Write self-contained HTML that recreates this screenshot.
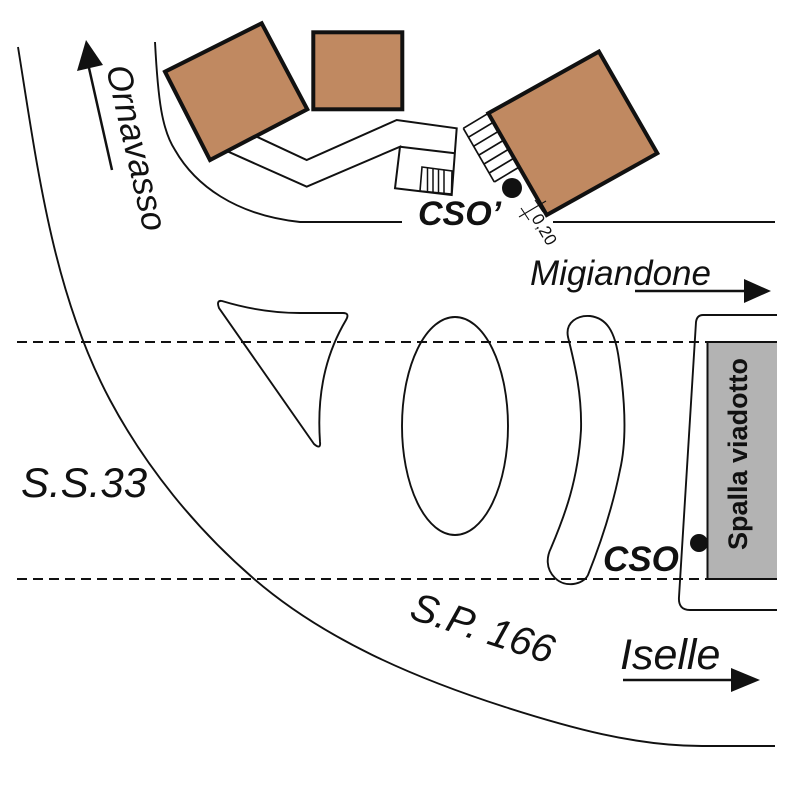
<!DOCTYPE html>
<html><head><meta charset="utf-8"><style>
html,body{margin:0;padding:0;background:#fff;}
svg{display:block;}
text{font-family:"Liberation Sans",Arial,sans-serif;fill:#111;}
</style></head><body>
<svg width="788" height="788" viewBox="0 0 788 788" xmlns="http://www.w3.org/2000/svg">
<rect width="788" height="788" fill="#fff"/>
<g fill="none" stroke="#111" stroke-width="1.9">
  <!-- big outer arc -->
  <path d="M18,47 C37.4,167.4 52.7,292.6 110,400 C145.7,466.9 195.6,528.2 253,578 C324,639.6 415.5,678.3 505,707 C568.8,727.4 635,746 702,746 L775,746"/>
  <!-- inner top curve -->
  <path d="M155,42 C158,100 162,130 175,150 C195,185 235,215 300,222 L402,222"/>
  <line x1="553" y1="222" x2="775" y2="222"/>
  <!-- walkway -->
  <polyline stroke-width="2" points="256.7,136.7 306.7,160 396.7,120 456.7,128.3 451.7,195 395,188.3 400,146.7 306.7,186.7 228.3,151.7"/>
  <line stroke-width="2" x1="400" y1="146.7" x2="455" y2="153.3"/>
  <!-- small stairs -->
  <polygon stroke-width="1.6" points="422,167 452,171 451.5,194 420,191"/>
  <line stroke-width="1.5" x1="427.5" y1="167.7" x2="427.5" y2="191.7"/>
  <line stroke-width="1.5" x1="433" y1="168.4" x2="433" y2="192.2"/>
  <line stroke-width="1.5" x1="438.5" y1="169.1" x2="438.5" y2="192.8"/>
  <line stroke-width="1.5" x1="444" y1="169.9" x2="444" y2="193.3"/>
  <!-- stairs house 3 -->
  <g stroke-width="1.7">
    <line x1="463.3" y1="128.3" x2="494.3" y2="182"/>
    <line x1="463.3" y1="128.3" x2="488.3" y2="113.3"/>
    <line x1="468.5" y1="137.2" x2="493.5" y2="122.2"/>
    <line x1="473.7" y1="146.2" x2="498.7" y2="131.2"/>
    <line x1="478.8" y1="155.1" x2="503.8" y2="140.1"/>
    <line x1="484" y1="164" x2="509" y2="149"/>
    <line x1="489.2" y1="173" x2="514.2" y2="158"/>
    <line x1="494.3" y1="182" x2="519.3" y2="167"/>
  </g>
  <!-- dashed roads -->
  <line x1="17" y1="342" x2="707" y2="342" stroke-width="2" stroke-dasharray="10 6"/>
  <line x1="17" y1="579" x2="707" y2="579" stroke-width="2" stroke-dasharray="10 6"/>
  <!-- triangle island -->
  <path d="M222,301 C245,308 270,313 300,313 L343,313 Q350,313 346,320 C330,347 316,385 320,442 Q321,450 314,444 L219,308 Q216,300 222,301 Z"/>
  <!-- egg island -->
  <ellipse cx="455" cy="426" rx="53" ry="109"/>
  <!-- crescent island -->
  <path d="M568,337 C565,322 578,315 590,316 C606,318 615,330 619,360 C625,400 627,440 620,470 C612,510 600,545 588,575 C583,585 565,588 555,578 C545,568 547,556 551,548 C565,515 578,480 581,430 C582,395 575,365 568,337 Z"/>
  <!-- bracket around spalla -->
  <path d="M777,315 L703,315 Q697,315 696,322 L679,597 Q678,610 690,610 L777,610"/>
</g>
<!-- gray spalla -->
<rect x="707" y="342" width="70" height="237" fill="#b3b3b3"/>
<g stroke="#111" stroke-width="2" fill="none">
  <line x1="707" y1="342" x2="777" y2="342"/>
  <line x1="707" y1="579" x2="777" y2="579"/>
  <line x1="707.5" y1="342" x2="707.5" y2="579"/>
</g>
<!-- houses -->
<g fill="#c08961" stroke="#111" stroke-width="4" stroke-linejoin="miter">
  <polygon points="165,71.7 261.7,23.3 307.3,109.3 210,160"/>
  <rect x="313.3" y="32.3" width="89" height="77"/>
  <polygon points="488.3,113.3 598.9,51.6 657.3,153.3 546.7,215"/>
</g>
<!-- dots -->
<circle cx="512" cy="188" r="10" fill="#111"/>
<circle cx="699" cy="543" r="9" fill="#111"/>
<!-- dimension marks -->
<g stroke="#111" stroke-width="1.1" fill="none">
  <line x1="519" y1="217" x2="546" y2="201"/>
  <line x1="521" y1="208" x2="529" y2="220"/>
  <line x1="535" y1="200" x2="543" y2="212"/>
</g>
<text transform="translate(531,218) rotate(60)" font-size="17">0,20</text>
<!-- arrows -->
<g stroke="#111" stroke-width="2.5">
  <line x1="635" y1="291" x2="750" y2="291"/>
  <line x1="623" y1="680" x2="737" y2="680"/>
  <line x1="112" y1="170" x2="89" y2="68"/>
</g>
<g fill="#111">
  <polygon points="744,279 771,291 744,303"/>
  <polygon points="731,668 760,680 731,692"/>
  <polygon points="86,40 77,71 103,65"/>
</g>
<!-- labels -->
<text x="418" y="225" font-size="34" font-weight="bold" font-style="italic">CSO’</text>
<text x="603" y="571" font-size="35" font-weight="bold" font-style="italic">CSO</text>
<text x="530" y="285" font-size="35" font-style="italic">Migiandone</text>
<text x="21" y="497" font-size="42" font-style="italic">S.S.33</text>
<text transform="translate(408,618) rotate(18)" font-size="40" font-style="italic">S.P. 166</text>
<text x="620" y="669" font-size="43" font-style="italic">Iselle</text>
<text transform="translate(106,68) rotate(77)" font-size="35" font-style="italic">Ornavasso</text>
<text transform="translate(747,550) rotate(-90)" font-size="27" font-weight="bold">Spalla viadotto</text>
</svg>
</body></html>
